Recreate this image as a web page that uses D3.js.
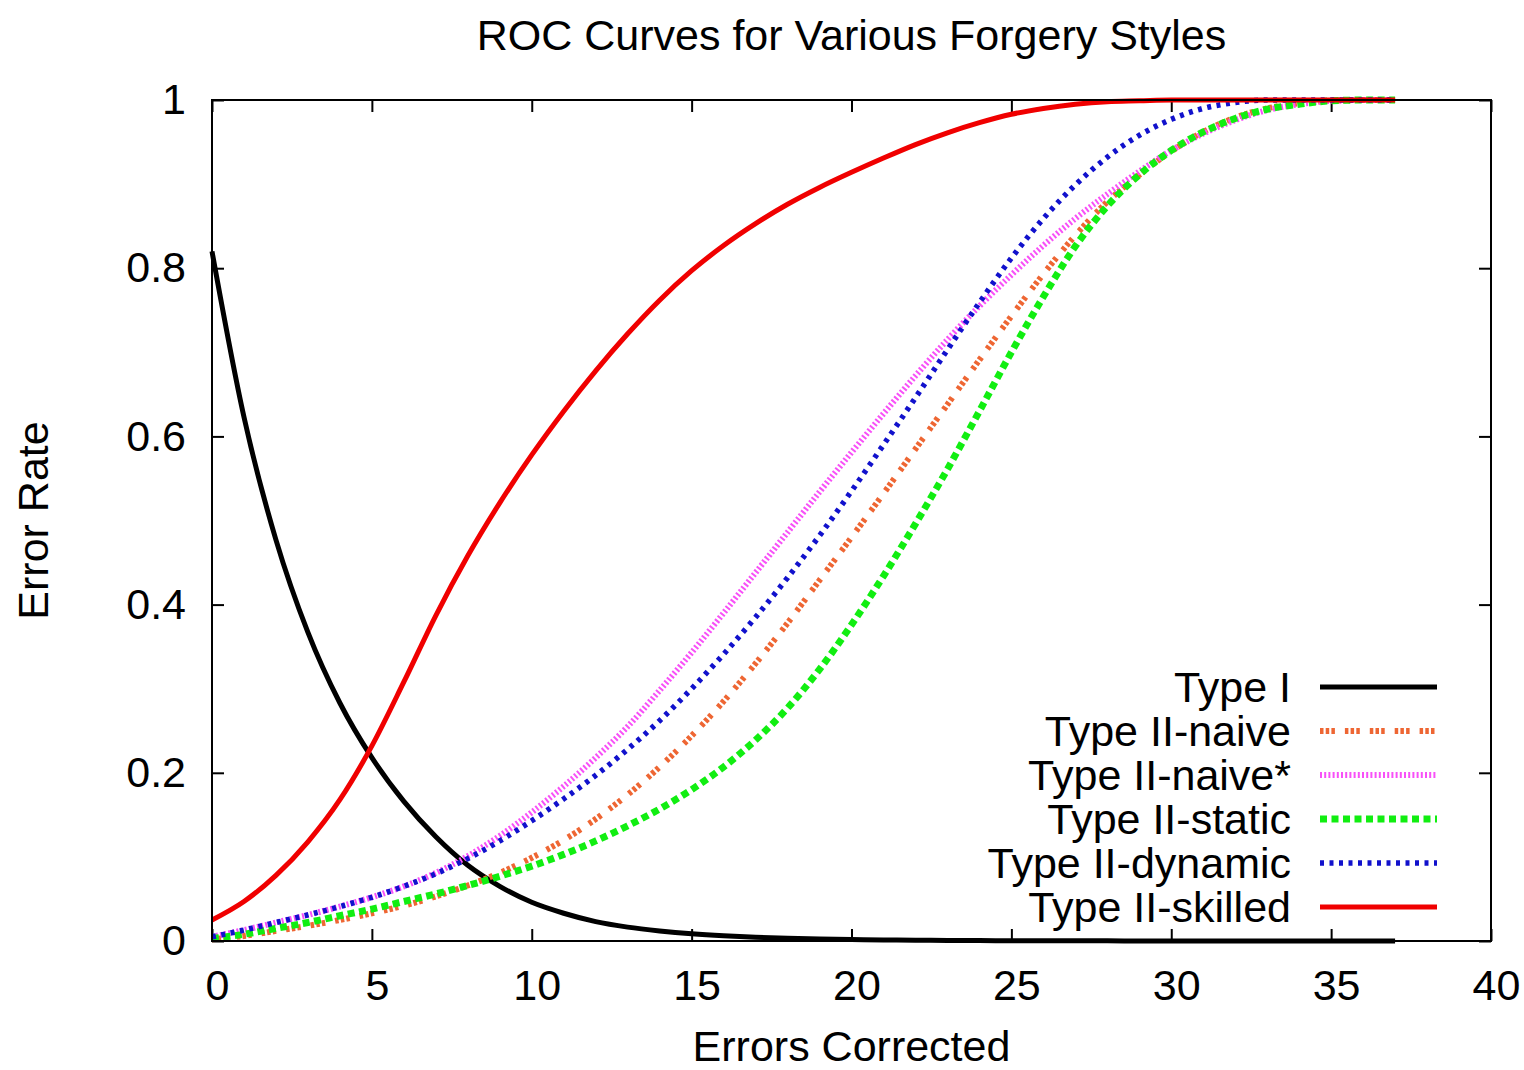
<!DOCTYPE html>
<html>
<head>
<meta charset="utf-8">
<script src="https://cdn.jsdelivr.net/npm/d3@7"></script>
<style>
  html, body { margin: 0; padding: 0; background: #fff; }
  svg { display: block; }
  text { font-family: "Liberation Sans", Arial, Helvetica, sans-serif; fill: #000; }
</style>
</head>
<body>
<svg id="chart" width="1524" height="1070"></svg>
<script>
// Errors corrected (x) at which each rate was sampled
const errorsCorrected = d3.range(0, 38);

// Error rate for each forgery style, one value per x above
const typeI = [0.82, 0.623, 0.477, 0.367, 0.283, 0.218, 0.166, 0.124, 0.09, 0.065,
  0.046, 0.033, 0.023, 0.0165, 0.012, 0.0086, 0.0062, 0.0045, 0.0033, 0.0024,
  0.0018, 0.0013, 0.001, 0.0007, 0.0005, 0.0004, 0.0003, 0.0002, 0.00015, 0.0001,
  0.0001, 0, 0, 0, 0, 0, 0, 0];
const typeIINaive = [0.002, 0.006, 0.012, 0.018, 0.025, 0.033, 0.042, 0.053, 0.066, 0.081,
  0.099, 0.12, 0.145, 0.174, 0.207, 0.244, 0.285, 0.33, 0.378, 0.429,
  0.48, 0.532, 0.585, 0.638, 0.691, 0.743, 0.793, 0.839, 0.879, 0.911,
  0.939, 0.962, 0.979, 0.99, 0.996, 0.999, 1, 1];
const typeIINaiveStar = [0.005, 0.013, 0.022, 0.031, 0.041, 0.052, 0.065, 0.081, 0.101, 0.125,
  0.153, 0.184, 0.218, 0.255, 0.298, 0.343, 0.39, 0.438, 0.486, 0.534,
  0.581, 0.627, 0.672, 0.715, 0.755, 0.792, 0.827, 0.859, 0.888, 0.915,
  0.94, 0.96, 0.976, 0.988, 0.995, 0.999, 1, 1];
const typeIIStatic = [0.003, 0.008, 0.015, 0.022, 0.03, 0.038, 0.047, 0.056, 0.066, 0.077,
  0.089, 0.103, 0.119, 0.137, 0.157, 0.18, 0.207, 0.239, 0.277, 0.323,
  0.376, 0.434, 0.496, 0.561, 0.63, 0.7, 0.766, 0.826, 0.874, 0.911,
  0.94, 0.962, 0.978, 0.989, 0.995, 0.999, 1, 1];
const typeIIDynamic = [0.005, 0.013, 0.022, 0.031, 0.041, 0.052, 0.065, 0.08, 0.098, 0.119,
  0.143, 0.169, 0.197, 0.228, 0.262, 0.3, 0.341, 0.385, 0.432, 0.482,
  0.535, 0.59, 0.646, 0.703, 0.759, 0.812, 0.859, 0.899, 0.932, 0.958,
  0.977, 0.99, 0.997, 1, 1, 1, 1, 1];
const typeIISkilled = [0.025, 0.047, 0.078, 0.118, 0.168, 0.232, 0.308, 0.387, 0.458, 0.521,
  0.578, 0.63, 0.678, 0.722, 0.762, 0.797, 0.827, 0.853, 0.876, 0.896,
  0.914, 0.931, 0.947, 0.961, 0.973, 0.983, 0.99, 0.995, 0.998, 0.999,
  1, 1, 1, 1, 1, 1, 1, 1];

const seriesNames = ["Type I", "Type II-naive", "Type II-naive*", "Type II-static", "Type II-dynamic", "Type II-skilled"];
const seriesValues = [typeI, typeIINaive, typeIINaiveStar, typeIIStatic, typeIIDynamic, typeIISkilled];

const xTicks = [0, 5, 10, 15, 20, 25, 30, 35, 40];
const yTicks = [0, 0.2, 0.4, 0.6, 0.8, 1];

// Stroke look for each series: colour, width, dash pattern
const styles = [
  { color: "#000000", width: 5, dash: null },
  { color: "#ee6633", width: 6, dash: "3.5,2.2,3.5,2.2,3.5,10" },
  { color: "#f850f8", width: 6, dash: "2,2.2" },
  { color: "#11ee11", width: 7, dash: "7,4.5" },
  { color: "#1111cc", width: 5.5, dash: "4,5.5" },
  { color: "#f00000", width: 5, dash: null }
];

const svg = d3.select("#chart");
const plotLeft = 212, plotRight = 1491, plotTop = 100, plotBottom = 941;
const FONT = 43;

const x = d3.scaleLinear().domain([0, 40]).range([plotLeft, plotRight]);
const y = d3.scaleLinear().domain([0, 1]).range([plotBottom, plotTop]);

// Title
svg.append("text")
  .attr("x", (plotLeft + plotRight) / 2).attr("y", 50)
  .attr("text-anchor", "middle")
  .style("font-size", FONT + "px")
  .text("ROC Curves for Various Forgery Styles");

// Axes with inward ticks on all four sides
function styleAxis(g) {
  g.select(".domain").remove();
  g.selectAll(".tick line").attr("stroke", "#000").attr("stroke-width", 2);
  g.selectAll(".tick text").style("font-size", FONT + "px")
    .style("font-family", "'Liberation Sans', Arial, sans-serif").attr("fill", "#000");
}

svg.append("g")
  .attr("transform", `translate(0,${plotBottom})`)
  .call(d3.axisBottom(x).tickValues(xTicks).tickSize(-12).tickPadding(28).tickFormat(d3.format("d")))
  .call(styleAxis)
  .call(g => g.selectAll(".tick text").attr("dx", 5));

svg.append("g")
  .attr("transform", `translate(${plotLeft},0)`)
  .call(d3.axisLeft(y).tickValues(yTicks).tickSize(-12).tickPadding(26).tickFormat(d => d3.format("~g")(d)))
  .call(styleAxis);

svg.append("g")
  .attr("transform", `translate(0,${plotTop})`)
  .call(d3.axisTop(x).tickValues(xTicks).tickSize(-12).tickFormat(""))
  .call(styleAxis);

svg.append("g")
  .attr("transform", `translate(${plotRight},0)`)
  .call(d3.axisRight(y).tickValues(yTicks).tickSize(-12).tickFormat(""))
  .call(styleAxis);

// Axis titles
svg.append("text")
  .attr("x", (plotLeft + plotRight) / 2).attr("y", 1061)
  .attr("text-anchor", "middle")
  .style("font-size", FONT + "px")
  .text("Errors Corrected");

svg.append("text")
  .attr("transform", `translate(48,${(plotTop + plotBottom) / 2}) rotate(-90)`)
  .attr("text-anchor", "middle")
  .style("font-size", FONT + "px")
  .text("Error Rate");

// Curves
const line = d3.line()
  .x((d, i) => x(errorsCorrected[i]))
  .y(d => y(d))
  .curve(d3.curveMonotoneX);

const curves = svg.append("g");
seriesValues.forEach((vals, i) => {
  const s = styles[i];
  curves.append("path")
    .datum(vals)
    .attr("d", line)
    .attr("fill", "none")
    .attr("stroke", s.color)
    .attr("stroke-width", s.width)
    .attr("stroke-dasharray", s.dash)
    .attr("stroke-linejoin", "round");
});

// Legend
const legend = svg.append("g");
seriesNames.forEach((name, i) => {
  const cy = 687 + i * 44;
  const s = styles[i];
  legend.append("text")
    .attr("x", 1291).attr("y", cy + 15)
    .attr("text-anchor", "end")
    .style("font-size", FONT + "px")
    .text(name);
  legend.append("line")
    .attr("x1", 1320).attr("x2", 1437)
    .attr("y1", cy).attr("y2", cy)
    .attr("stroke", s.color)
    .attr("stroke-width", s.width)
    .attr("stroke-dasharray", s.dash);
});

// Plot frame
svg.append("rect")
  .attr("x", plotLeft).attr("y", plotTop)
  .attr("width", plotRight - plotLeft).attr("height", plotBottom - plotTop)
  .attr("fill", "none").attr("stroke", "#000").attr("stroke-width", 2);
</script>
</body>
</html>
